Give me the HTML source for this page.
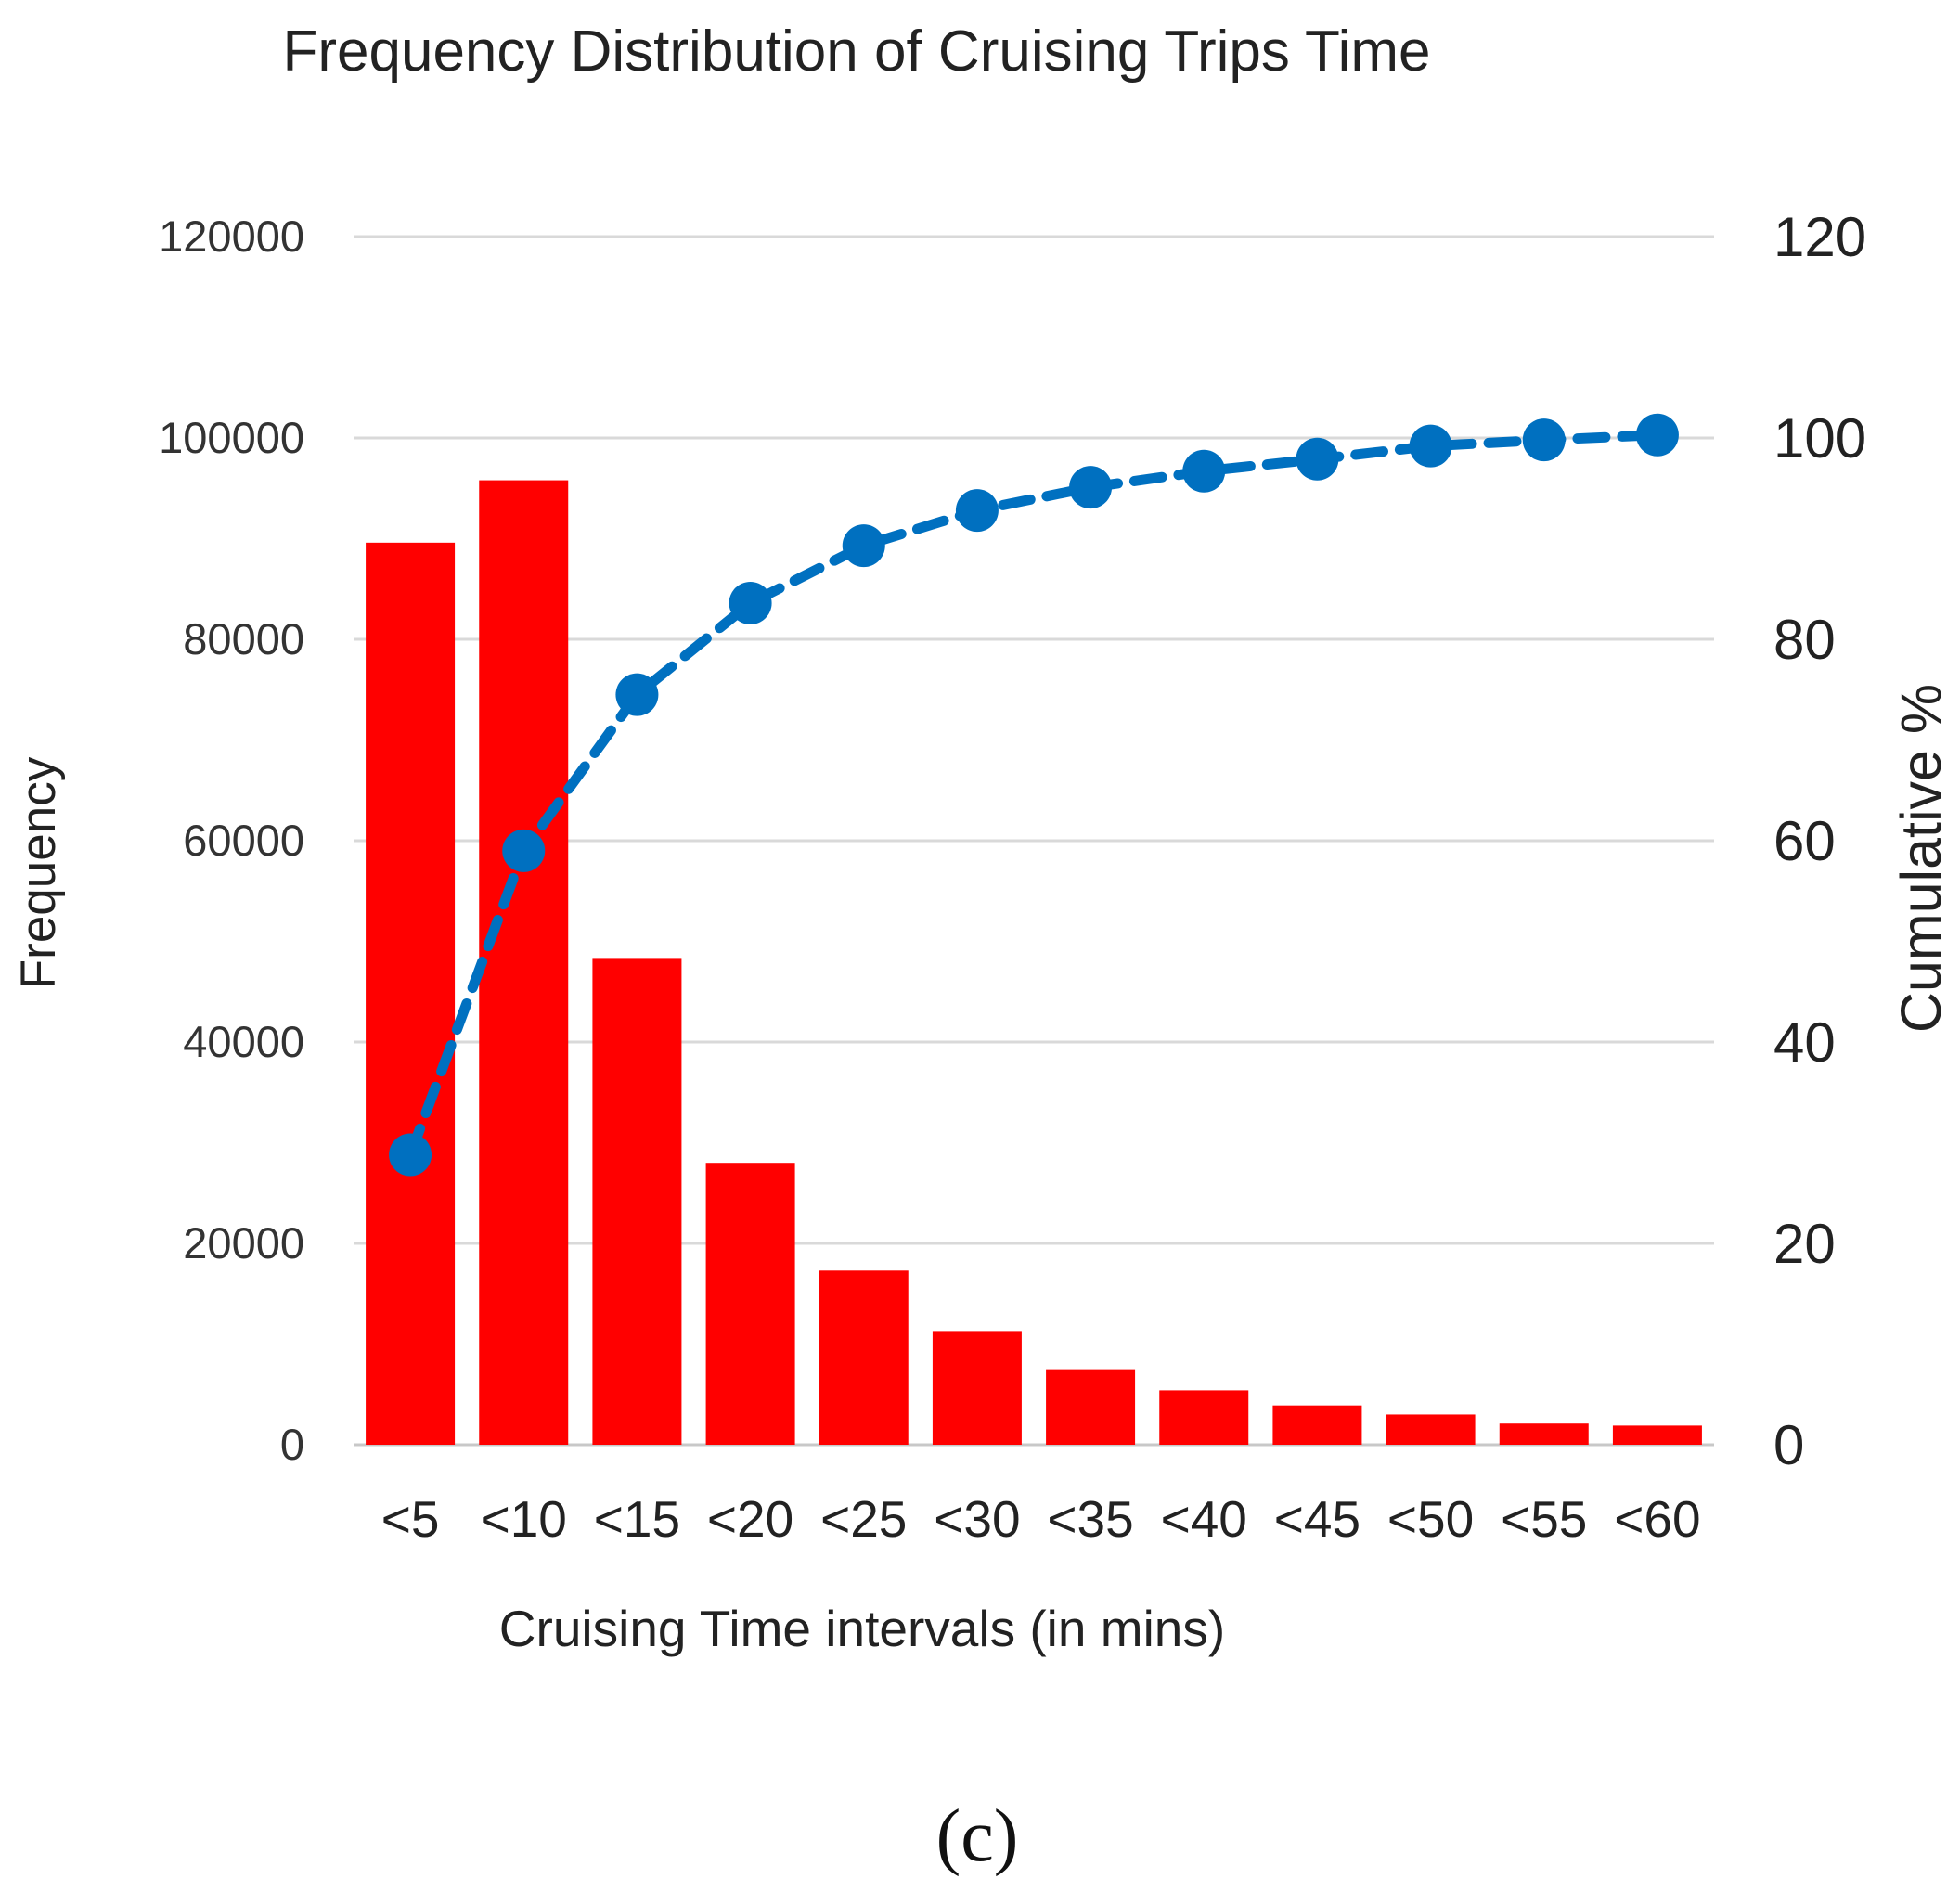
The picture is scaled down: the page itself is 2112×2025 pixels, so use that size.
<!DOCTYPE html>
<html><head><meta charset="utf-8"><style>
html,body{margin:0;padding:0;background:#fff;}
svg{display:block;font-family:"Liberation Sans",sans-serif;}
</style></head><body>
<svg id="chart" width="2112" height="2025" viewBox="0 0 2112 2025" xmlns="http://www.w3.org/2000/svg">
<text x="923" y="76" font-size="62" text-anchor="middle" fill="#222">Frequency Distribution of Cruising Trips Time</text>
<text x="929" y="1774" font-size="55" text-anchor="middle" fill="#222">Cruising Time intervals (in mins)</text>
<text transform="translate(59,941) rotate(-90)" font-size="53" text-anchor="middle" fill="#222">Frequency</text>
<text transform="translate(2091,925) rotate(-90)" font-size="61" text-anchor="middle" fill="#222">Cumulative %</text>
<text x="1053" y="2005" font-size="80" text-anchor="middle" fill="#111" font-family="Liberation Serif,serif">(c)</text>
<g id="grid"></g><g id="bars"></g><g id="line"></g><g id="labels"></g>
</svg>
<script>
const categories=["<5","<10","<15","<20","<25","<30","<35","<40","<45","<50","<55","<60"];
const frequency=[89600,95800,48350,28000,17300,11300,7500,5400,3900,3000,2100,1900];
const cumulative=[28.8,59,74.5,83.6,89.3,92.8,95.1,96.7,97.9,99.2,99.8,100.3];
const leftTicks=[0,20000,40000,60000,80000,100000,120000];
const rightTicks=[0,20,40,60,80,100,120];
const NS="http://www.w3.org/2000/svg";
const L=381,R=1847,T=255,B=1557;
const cw=(R-L)/categories.length;
const xc=i=>L+cw*(i+0.5);
const y1=v=>B-(v/120000)*(B-T);
const y2=v=>B-(v/120)*(B-T);
function mk(tag,attrs,parent){const e=document.createElementNS(NS,tag);for(const k in attrs)e.setAttribute(k,attrs[k]);document.getElementById(parent).appendChild(e);return e;}
leftTicks.forEach((t,i)=>{
  const g=mk("line",{x1:L,x2:R,y1:y1(t),y2:y1(t),stroke:t===0?"#c8c8c8":"#d9d9d9","stroke-width":3},"grid");
  
  
  const a=mk("text",{x:328,y:y1(t)+16,"font-size":47,"text-anchor":"end",fill:"#333"},"labels");
  a.textContent=t;
  
  
  const b=mk("text",{x:1911,y:y2(rightTicks[i])+21,"font-size":60,fill:"#222"},"labels");
  b.textContent=rightTicks[i];
  
  
});
const bw=96;
categories.forEach((c,i)=>{
  const r=mk("rect",{x:xc(i)-bw/2,y:y1(frequency[i]),width:bw,height:B-y1(frequency[i]),fill:"#ff0000"},"bars");
  
  
  const t=mk("text",{x:xc(i),y:1656,"font-size":55,"text-anchor":"middle",fill:"#222"},"labels");
  t.textContent=c;
  
  
});
const pts=cumulative.map((v,i)=>xc(i)+","+y2(v)).join(" ");
const pl=mk("polyline",{points:pts,fill:"none",stroke:"#0070c0","stroke-width":11,"stroke-dasharray":"30 18","stroke-linecap":"round"},"line");


cumulative.forEach((v,i)=>{
  const c=mk("circle",{cx:xc(i),cy:y2(v),r:23,fill:"#0070c0"},"line");
  
  
});
</script>
</body></html>
